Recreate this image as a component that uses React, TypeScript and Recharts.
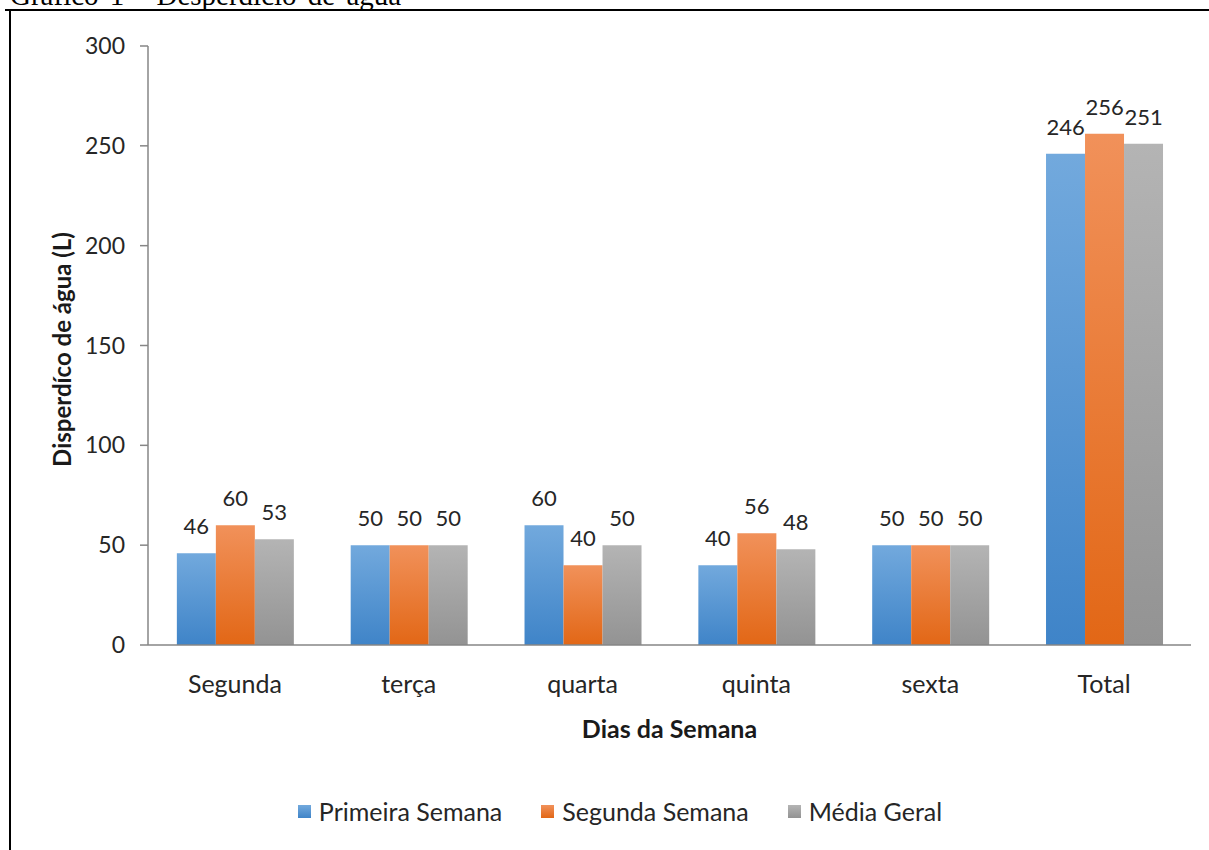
import React from 'react';
import { BarChart, Bar, XAxis, YAxis, LabelList, Legend } from 'recharts';

const days = ['Segunda', 'terça', 'quarta', 'quinta', 'sexta', 'Total'];
const primeiraSemana = [46, 50, 60, 40, 50, 246];
const segundaSemana = [60, 50, 40, 56, 50, 256];
const mediaGeral = [53, 50, 50, 48, 50, 251];
const seriesNames = ['Primeira Semana', 'Segunda Semana', 'Média Geral'];
const seriesKeys = ['p', 's', 'm'];
const yTicks = [0, 50, 100, 150, 200, 250, 300];
const boundaryTicks = [0, 1, 2, 3, 4, 5, 6];
const titleText = 'Gráfico 1 - Desperdício de água';
const yAxisTitle = 'Disperdíco de água (L)';
const xAxisTitle = 'Dias da Semana';

const data = days.map((d, i) => ({
  day: d,
  p: primeiraSemana[i],
  s: segundaSemana[i],
  m: mediaGeral[i],
}));

const FONT = 'Lato, "Open Sans", sans-serif';
const TEXT = '#262626';
const AXIS = '#868686';

const gradients = [
  { id: 'gBlue', top: '#72a9dd', bottom: '#3f84c8' },
  { id: 'gOrange', top: '#f1915a', bottom: '#e26716' },
  { id: 'gGray', top: '#b4b4b4', bottom: '#939393' },
];

const legendSwatch: Record<string, string> = {
  p: 'linear-gradient(#72a9dd, #3f84c8)',
  s: 'linear-gradient(#f1915a, #e26716)',
  m: 'linear-gradient(#b4b4b4, #939393)',
};

const LegendContent = (props: any) => {
  const payload = [...(props.payload || [])].sort(
    (a: any, b: any) => seriesKeys.indexOf(a.dataKey) - seriesKeys.indexOf(b.dataKey)
  );
  return (
    <div
      style={{
        height: 30,
        display: 'flex',
        justifyContent: 'center',
        alignItems: 'center',
        fontFamily: FONT,
        fontSize: 25,
        color: TEXT,
        paddingLeft: 49,
      }}
    >
      {payload.map((item: any, i: number) => (
        <div key={i} style={{ display: 'flex', alignItems: 'center', marginRight: i < payload.length - 1 ? 39 : 0 }}>
          <div style={{ width: 13, height: 13, background: legendSwatch[item.dataKey], marginRight: 8 }} />
          <span>{item.value}</span>
        </div>
      ))}
    </div>
  );
};

const YTitle = (props: any) => {
  const vb = props.viewBox || { x: 0, y: 46, width: 148, height: 599 };
  const x = vb.x + 71;
  const y = vb.y + vb.height / 2 + 4;
  return (
    <text
      x={x}
      y={y}
      transform={`rotate(-90, ${x}, ${y})`}
      textAnchor="middle"
      fontFamily={FONT}
      fontWeight={700}
      fontSize={24}
      fill="#1a1a1a"
    >
      {yAxisTitle}
    </text>
  );
};

const XTitle = (props: any) => {
  const vb = props.viewBox || { x: 148, y: 645, width: 1043, height: 151 };
  return (
    <text
      x={vb.x + vb.width / 2}
      y={vb.y + 93}
      textAnchor="middle"
      fontFamily={FONT}
      fontWeight={700}
      fontSize={25}
      fill="#1a1a1a"
    >
      {xAxisTitle}
    </text>
  );
};

const EmptyTick = () => <g />;

export default function App() {
  return (
    <div style={{ position: 'absolute', left: 0, top: 0, width: 1209, height: 850, background: '#fff', overflow: 'hidden' }}>
      <div
        style={{
          position: 'absolute',
          left: 10,
          top: -20,
          fontFamily: '"Liberation Serif", "Times New Roman", serif',
          fontSize: 29,
          lineHeight: '30px',
          height: 30,
          wordSpacing: 4,
          color: '#000',
          whiteSpace: 'nowrap',
        }}
      >
        {titleText}
      </div>
      <div style={{ position: 'absolute', left: 5, top: 9, width: 1204, height: 2, background: '#000' }} />
      <div style={{ position: 'absolute', left: 9, top: 11, width: 2, height: 839, background: '#000' }} />
      <div style={{ position: 'absolute', left: 0, top: 0 }}>
        <BarChart
          width={1209}
          height={850}
          data={data}
          margin={{ top: 46, right: 18, bottom: 24, left: 0 }}
          barCategoryGap="16.6%"
          barGap={0}
        >
          <defs>
            {gradients.map((g) => (
              <linearGradient key={g.id} id={g.id} x1="0" y1="0" x2="0" y2="1">
                <stop offset="0%" stopColor={g.top} />
                <stop offset="100%" stopColor={g.bottom} />
              </linearGradient>
            ))}
          </defs>
          <XAxis
            dataKey="day"
            xAxisId={0}
            height={151}
            tickLine={false}
            tickSize={0}
            tickMargin={30}
            axisLine={{ stroke: AXIS, strokeWidth: 1.5 }}
            tick={{ fontFamily: FONT, fontSize: 25, fill: TEXT }}
            interval={0}
            label={<XTitle />}
          />
          <XAxis
            xAxisId="b"
            type="number"
            domain={[0, 6]}
            ticks={boundaryTicks}
            allowDataOverflow
            height={0}
            axisLine={false}
            tickSize={9}
            tickLine={{ stroke: AXIS, strokeWidth: 1.5 }}
            tick={<EmptyTick />}
            interval={0}
          />
          <YAxis
            width={148}
            domain={[0, 300]}
            ticks={yTicks}
            interval={0}
            tickSize={8}
            tickMargin={15}
            axisLine={{ stroke: AXIS, strokeWidth: 1.5 }}
            tickLine={{ stroke: AXIS, strokeWidth: 1.5 }}
            tick={{ fontFamily: FONT, fontSize: 23, fill: TEXT }}
            label={<YTitle />}
          />
          <Legend verticalAlign="bottom" align="center" content={<LegendContent />} />
          <Bar dataKey="p" name={seriesNames[0]} fill="url(#gBlue)" isAnimationActive={false}>
            <LabelList dataKey="p" position="top" offset={19} style={{ fontFamily: FONT, fontSize: 22, fill: TEXT }} />
          </Bar>
          <Bar dataKey="s" name={seriesNames[1]} fill="url(#gOrange)" isAnimationActive={false}>
            <LabelList dataKey="s" position="top" offset={19} style={{ fontFamily: FONT, fontSize: 22, fill: TEXT }} />
          </Bar>
          <Bar dataKey="m" name={seriesNames[2]} fill="url(#gGray)" isAnimationActive={false}>
            <LabelList dataKey="m" position="top" offset={19} style={{ fontFamily: FONT, fontSize: 22, fill: TEXT }} />
          </Bar>
        </BarChart>
      </div>
    </div>
  );
}
